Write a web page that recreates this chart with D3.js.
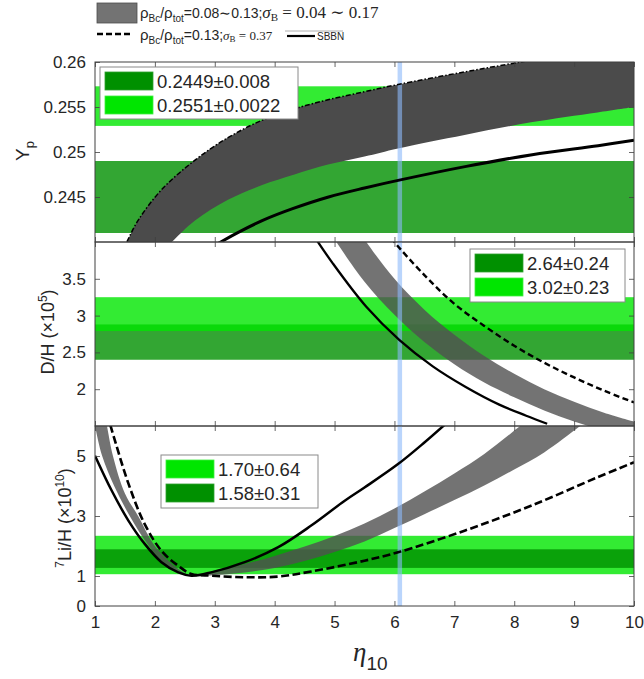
<!DOCTYPE html>
<html>
<head>
<meta charset="utf-8">
<title>BBN abundances vs eta10</title>
<script src="https://cdn.jsdelivr.net/npm/d3@7"></script>
<style>
  body { margin: 0; background: #fff; }
  text { font-family: "Liberation Sans", Arial, Helvetica, sans-serif; fill: #262626; }
  .serif { font-family: "Liberation Serif", "DejaVu Serif", serif; }
</style>
</head>
<body>
<script>
// ---- data ----
var xTicks = [1, 2, 3, 4, 5, 6, 7, 8, 9, 10];
var etaObs = 6.09;

// Y_p panel
var ypTicks = [0.245, 0.25, 0.255, 0.26];
var ypTickLabels = ["0.245", "0.25", "0.255", "0.26"];
var ypBandLabels = ["0.2449\u00b10.008", "0.2551\u00b10.0022"];
var ypBandLo = [0.2410, 0.2529];
var ypBandHi = [0.2490, 0.2573];
var ypSBBN = [[3.0,0.2396],[3.1,0.2400],[3.4,0.2411],[3.8,0.2424],[4.3,0.2437],[4.9,0.2450],[5.5,0.2460],[6.1,0.2469],[7.2,0.2484],[8.3,0.2497],[9.4,0.2507],[10,0.2513]];
var ypGrayTop = [[1.45,0.2390],[1.53,0.2400],[1.72,0.2424],[2.11,0.2458],[2.67,0.2491],[3.22,0.2516],[3.78,0.2535],[4.33,0.2548],[4.89,0.2558],[5.5,0.2567],[6.06,0.2575],[7.17,0.2589],[8.2,0.2601],[9.1,0.2611],[10,0.2620]];
var ypGrayBottom = [[2.2,0.2395],[2.28,0.2400],[2.67,0.2424],[3.22,0.2447],[3.78,0.2463],[4.33,0.2475],[4.89,0.2486],[5.5,0.2495],[6.06,0.2504],[7.17,0.2519],[8.28,0.2533],[9.39,0.2544],[10,0.2550]];

// D/H panel
var dhTicks = [2, 2.5, 3, 3.5];
var dhTickLabels = ["2", "2.5", "3", "3.5"];
var dhBandLabels = ["2.64\u00b10.24", "3.02\u00b10.23"];
var dhBandLo = [2.40, 2.79];
var dhBandHi = [2.88, 3.25];
var dhSBBN = [[4.6,4.15],[4.97,3.71],[5.53,3.12],[6.08,2.67],[6.64,2.31],[7.19,2.03],[7.75,1.79],[8.2,1.64],[8.55,1.53]];
var dhGrayLeft = [[4.95,4.1],[5.03,4.0],[5.5,3.46],[6.0,3.01],[6.5,2.64],[7.0,2.34],[7.5,2.09],[8.0,1.89],[8.5,1.71],[9.0,1.56],[9.5,1.44],[10,1.34]];
var dhGrayRight = [[5.45,4.1],[5.53,4.0],[6.0,3.50],[6.5,3.08],[7.0,2.74],[7.5,2.45],[8.0,2.21],[8.5,2.00],[9.0,1.83],[9.5,1.68],[10,1.56]];
var dhDash = [[5.95,4.06],[6.0,4.0],[6.5,3.55],[7.0,3.16],[7.5,2.86],[8.0,2.59],[8.5,2.36],[9.0,2.16],[9.5,1.98],[10,1.82]];

// 7Li/H panel
var liTicks = [0, 1, 3, 5];
var liTickLabels = ["0", "1", "3", "5"];
var liBandLabels = ["1.70\u00b10.64", "1.58\u00b10.31"];
var liBandLo = [1.06, 1.27];
var liBandHi = [2.34, 1.89];
var liSBBN = [[1.0,5.01],[1.28,3.84],[1.56,2.84],[1.83,2.07],[2.11,1.46],[2.39,1.12],[2.61,1.01],[2.94,1.12],[3.5,1.46],[4.06,1.96],[4.61,2.68],[5.17,3.51],[5.5,3.95],[6.06,4.73],[6.5,5.45],[6.9,6.15]];
var liDash = [[1.2,6.4],[1.25,6.07],[1.56,4.07],[1.83,2.73],[2.11,1.84],[2.39,1.34],[2.61,1.07],[2.94,1.01],[3.5,0.96],[4.06,0.98],[4.61,1.15],[5.5,1.51],[6.06,1.79],[7.17,2.51],[8.28,3.34],[9.39,4.29],[10,4.79]];
var liGrayLo = [[0.97,6.3],[1.0,6.0],[1.12,5.0],[1.32,4.0],[1.58,3.0],[1.9,2.0],[2.22,1.3],[2.6,1.0],[3.0,1.03],[3.5,1.12],[4.0,1.27],[4.5,1.5],[5.0,1.8],[5.5,2.15],[6.0,2.6],[6.5,3.06],[7.0,3.53],[7.5,4.02],[8.0,4.55],[8.5,5.12],[9.1,6.0],[9.3,6.3]];
var liGrayHi = [[1.17,6.3],[1.2,6.0],[1.3,5.0],[1.5,3.75],[1.72,3.0],[2.0,2.0],[2.35,1.3],[2.6,1.02],[3.0,1.18],[3.5,1.40],[4.0,1.67],[4.5,1.98],[5.0,2.33],[5.5,2.75],[6.0,3.25],[6.5,3.82],[7.0,4.42],[7.5,5.07],[8.1,6.0],[8.3,6.3]];

var darkGreen = "#009000", lightGreen = "#00e600";

// ---- layout ----
var svg = d3.select("body").append("svg").attr("width", 644).attr("height", 679);
var x = d3.scaleLinear().domain([1, 10]).range([95, 634]);

var panels = [
  { key: "yp", y: d3.scaleLinear().domain([0.24, 0.26]).range([242, 62]),
    ticks: ypTicks, tickLabels: ypTickLabels,
    bandLo: ypBandLo, bandHi: ypBandHi, bandColors: [darkGreen, lightGreen], bandLabels: ypBandLabels,
    grayA: ypGrayTop, grayB: ypGrayBottom, grayFill: "#4b4b4b", grayOpacity: 1,
    solid: ypSBBN, solidW: 3, dash: ypGrayTop, dashArr: "5,2,1.5,2", dashW: 1.5,
    legend: { x: 100, y: 67, w: 198, h: 52 } },
  { key: "dh", y: d3.scaleLinear().domain([1.5, 4]).range([426, 242]),
    ticks: dhTicks, tickLabels: dhTickLabels,
    bandLo: dhBandLo, bandHi: dhBandHi, bandColors: [darkGreen, lightGreen], bandLabels: dhBandLabels,
    grayA: dhGrayLeft, grayB: dhGrayRight, grayFill: "#505050", grayOpacity: 0.8,
    solid: dhSBBN, solidW: 2.3, dash: dhDash, dashArr: "6,3.5", dashW: 2.4,
    legend: { x: 470, y: 249, w: 155, h: 53 } },
  { key: "li", y: d3.scaleLinear().domain([0, 6]).range([606, 426]),
    ticks: liTicks, tickLabels: liTickLabels,
    bandLo: liBandLo, bandHi: liBandHi, bandColors: [lightGreen, darkGreen], bandLabels: liBandLabels,
    grayA: liGrayLo, grayB: liGrayHi, grayFill: "#505050", grayOpacity: 0.8,
    solid: liSBBN, solidW: 2.5, dash: liDash, dashArr: "8,3.5", dashW: 2.6,
    legend: { x: 161, y: 455, w: 157, h: 53 } }
];

panels.forEach(function(p, pi) {
  var y = p.y;
  var y0 = y.range()[0], y1 = y.range()[1];
  var g = svg.append("g").attr("class", "panel-" + p.key);

  svg.append("clipPath").attr("id", "clip-" + p.key)
    .append("rect").attr("x", x(1)).attr("y", y1).attr("width", x(10) - x(1)).attr("height", y0 - y1);

  var plot = g.append("g").attr("clip-path", "url(#clip-" + p.key + ")");

  // observational bands
  plot.selectAll("rect.band").data(p.bandLo).enter().append("rect")
    .attr("class", "band")
    .attr("x", x(1)).attr("width", x(10) - x(1))
    .attr("y", function(d, i) { return y(p.bandHi[i]); })
    .attr("height", function(d, i) { return y(d) - y(p.bandHi[i]); })
    .attr("fill", function(d, i) { return p.bandColors[i]; })
    .attr("fill-opacity", 0.8);

  var line = d3.line().x(function(d) { return x(d[0]); }).y(function(d) { return y(d[1]); })
    .curve(d3.curveCatmullRom.alpha(0.5));

  // band between two edges: each edge smoothed on its own, joined by straight pieces
  var back = line(p.grayB.slice().reverse());
  plot.append("path").attr("d", line(p.grayA) + "L" + back.slice(1) + "Z")
    .attr("fill", p.grayFill).attr("fill-opacity", p.grayOpacity).attr("stroke", "none");

  // eta from CMB
  plot.append("line").attr("x1", x(etaObs)).attr("x2", x(etaObs)).attr("y1", y1).attr("y2", y0)
    .attr("stroke", "rgb(140,185,250)").attr("stroke-opacity", 0.6).attr("stroke-width", 4.5);

  plot.append("path").attr("d", line(p.dash)).attr("fill", "none")
    .attr("stroke", "#000").attr("stroke-width", p.dashW).attr("stroke-dasharray", p.dashArr);
  plot.append("path").attr("d", line(p.solid)).attr("fill", "none")
    .attr("stroke", "#000").attr("stroke-width", p.solidW);

  // axes with inward ticks
  var axCol = "#404040";
  var bottom = g.append("g").attr("transform", "translate(0," + y0 + ")")
    .call(d3.axisBottom(x).tickValues(xTicks).tickSizeInner(-5).tickSizeOuter(0).tickPadding(10)
      .tickFormat(pi === 2 ? d3.format("d") : ""));
  var top = g.append("g").attr("transform", "translate(0," + y1 + ")")
    .call(d3.axisTop(x).tickValues(xTicks).tickSizeInner(-5).tickSizeOuter(0).tickFormat(""));
  var left = g.append("g").attr("transform", "translate(" + x(1) + ",0)")
    .call(d3.axisLeft(y).tickValues(p.ticks).tickSizeInner(-5).tickSizeOuter(0).tickPadding(9)
      .tickFormat(function(d, i) { return p.tickLabels[i]; }));
  var right = g.append("g").attr("transform", "translate(" + x(10) + ",0)")
    .call(d3.axisRight(y).tickValues(p.ticks).tickSizeInner(-5).tickSizeOuter(0).tickFormat(""));

  [bottom, top, left, right].forEach(function(a) {
    a.select(".domain").remove();
    a.selectAll(".tick line").attr("stroke", axCol).attr("stroke-width", 0.8);
    a.selectAll(".tick text").attr("font-size", 17).attr("fill", "#262626")
      .attr("font-family", "Liberation Sans, Arial, sans-serif");
  });

  g.append("rect").attr("x", x(1)).attr("y", y1).attr("width", x(10) - x(1)).attr("height", y0 - y1)
    .attr("fill", "none").attr("stroke", axCol).attr("stroke-width", 1);

  // legend
  var L = p.legend;
  var lg = g.append("g").attr("transform", "translate(" + L.x + "," + L.y + ")");
  lg.append("rect").attr("width", L.w).attr("height", L.h).attr("fill", "#fff")
    .attr("stroke", "#8a8a8a").attr("stroke-width", 1);
  lg.selectAll("rect.sw").data(p.bandLabels).enter().append("rect")
    .attr("class", "sw")
    .attr("x", 5).attr("y", function(d, i) { return 5 + i * 24; })
    .attr("width", 48).attr("height", 18)
    .attr("fill", function(d, i) { return p.bandColors[i]; })
    .attr("stroke", function(d, i) { return p.bandColors[i] === darkGreen ? "#30a030" : "#40ee40"; })
    .attr("stroke-width", 0.8);
  lg.selectAll("text.lab").data(p.bandLabels).enter().append("text")
    .attr("class", "lab")
    .attr("x", 57).attr("y", function(d, i) { return 20.5 + i * 24; })
    .attr("font-size", 18.5)
    .text(function(d) { return d; });
});

// y-axis titles
var t1 = svg.append("text").attr("transform", "translate(29,151) rotate(-90)")
  .attr("text-anchor", "middle").attr("font-size", 19);
t1.append("tspan").text("Y");
t1.append("tspan").attr("font-size", 13).attr("dy", 5).text("p");

var t2 = svg.append("text").attr("transform", "translate(54,332) rotate(-90)")
  .attr("text-anchor", "middle").attr("font-size", 18);
t2.append("tspan").text("D/H (\u00d710");
t2.append("tspan").attr("font-size", 12).attr("dy", -7).text("5");
t2.append("tspan").attr("dy", 7).text(")");

var t3 = svg.append("text").attr("transform", "translate(71,518) rotate(-90)")
  .attr("text-anchor", "middle").attr("font-size", 18);
t3.append("tspan").attr("font-size", 12).attr("dy", -7).text("7");
t3.append("tspan").attr("dy", 7).text("Li/H (\u00d710");
t3.append("tspan").attr("font-size", 12).attr("dy", -7).text("10");
t3.append("tspan").attr("dy", 7).text(")");

// x-axis title
var tx = svg.append("text").attr("x", 353).attr("y", 661);
tx.append("tspan").attr("class", "serif").attr("font-style", "italic").attr("font-size", 27).text("\u03b7");
tx.append("tspan").attr("font-size", 19).attr("dy", 9).text("10");

// top legend
var leg = svg.append("g");
leg.append("rect").attr("x", 97).attr("y", 3).attr("width", 40).attr("height", 20)
  .attr("fill", "#737373").attr("stroke", "#4d4d4d").attr("stroke-width", 0.8);
var r1 = leg.append("text").attr("x", 140).attr("y", 18).attr("font-size", 14);
r1.append("tspan").attr("font-size", 15).text("\u03c1");
r1.append("tspan").attr("font-size", 10).attr("dy", 4).text("Bc");
r1.append("tspan").attr("dy", -4).text("/");
r1.append("tspan").attr("font-size", 15).text("\u03c1");
r1.append("tspan").attr("font-size", 10).attr("dy", 4).text("tot");
r1.append("tspan").attr("dy", -4).text("=0.08\u223c0.13;");
r1.append("tspan").attr("class", "serif").attr("font-style", "italic").attr("font-size", 17).text("\u03c3");
r1.append("tspan").attr("class", "serif").attr("font-size", 11).attr("dy", 3).text("B");
r1.append("tspan").attr("class", "serif").attr("font-size", 17).attr("dy", -3).text(" = 0.04 \u223c 0.17");

leg.append("line").attr("x1", 97).attr("x2", 133).attr("y1", 34).attr("y2", 34)
  .attr("stroke", "#000").attr("stroke-width", 2.4).attr("stroke-dasharray", "6,3");
var r2 = leg.append("text").attr("x", 140).attr("y", 40).attr("font-size", 14);
r2.append("tspan").attr("font-size", 15).text("\u03c1");
r2.append("tspan").attr("font-size", 10).attr("dy", 4).text("Bc");
r2.append("tspan").attr("dy", -4).text("/");
r2.append("tspan").attr("font-size", 15).text("\u03c1");
r2.append("tspan").attr("font-size", 10).attr("dy", 4).text("tot");
r2.append("tspan").attr("dy", -4).text("=0.13;");
r2.append("tspan").attr("class", "serif").attr("font-style", "italic").attr("font-size", 13).text("\u03c3");
r2.append("tspan").attr("class", "serif").attr("font-size", 9).attr("dy", 2).text("B");
r2.append("tspan").attr("class", "serif").attr("font-size", 13).attr("dy", -2).text(" = 0.37");

leg.append("line").attr("x1", 285).attr("x2", 343).attr("y1", 31).attr("y2", 31)
  .attr("stroke", "#9a9a9a").attr("stroke-width", 0.8);
leg.append("line").attr("x1", 287).attr("x2", 315).attr("y1", 36).attr("y2", 36)
  .attr("stroke", "#000").attr("stroke-width", 2.2);
leg.append("text").attr("x", 317).attr("y", 39.5).attr("font-size", 10).text("SBBN");
</script>
</body>
</html>
